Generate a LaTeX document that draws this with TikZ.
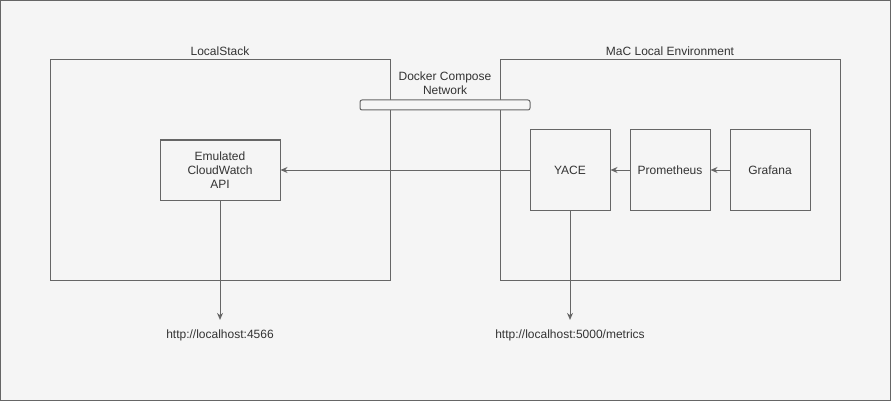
\documentclass[tikz,border=0pt]{standalone}
\usepackage{fontspec}
\setmainfont{Liberation Sans}
\usetikzlibrary{arrows.meta}
\definecolor{linegray}{HTML}{666666}
\definecolor{textgray}{HTML}{333333}
\definecolor{bggray}{HTML}{F5F5F5}
\begin{document}
\begin{tikzpicture}[x=1pt,y=-1pt,line width=1pt,
  every node/.style={text=textgray,font=\fontsize{12}{14}\selectfont},
  box/.style={draw=linegray,fill=bggray,inner sep=0pt},
  flow/.style={draw=linegray,-{Stealth[length=7pt,width=6pt]}}]
\useasboundingbox (0,0) rectangle (891,401);
\draw[draw=linegray,fill=bggray] (0.5,0.5) rectangle (890.5,400.5);
% groups
\node [box,minimum width=340pt,minimum height=220pt,label={above:LocalStack}] (ls) at (220,170) {};
\node [box,minimum width=340pt,minimum height=220pt,label={above:MaC Local Environment}] (mac) at (670,170) {};
\node [align=center] (netlbl) at (445,83) {Docker Compose\\Network};
\node [box,rounded corners=2pt,minimum width=170pt,minimum height=10pt] (net) at (445,105) {};
% services
\node [box,align=center,minimum width=120pt,minimum height=60pt] (cw) at (220,170) {Emulated\\CloudWatch\\API};
\node [box,minimum width=80pt,minimum height=80pt] (yace) at (570,170) {YACE};
\node [box,minimum width=80pt,minimum height=80pt] (prom) at (670,170) {Prometheus};
\node [box,minimum width=80pt,minimum height=80pt] (graf) at (770,170) {Grafana};
% endpoints
\node [inner xsep=0pt,inner ysep=9pt] (cwurl) at (220,335) {http://localhost:4566};
\node [inner xsep=0pt,inner ysep=9pt] (yaceurl) at (570,335) {http://localhost:5000/metrics};
\draw [flow] (graf) -- (prom);
\draw [flow] (prom) -- (yace);
\draw [flow] (yace) -- (cw);
\draw [flow] (cw) -- (cwurl);
\draw [flow] (yace) -- (yaceurl);
\end{tikzpicture}
\end{document}
